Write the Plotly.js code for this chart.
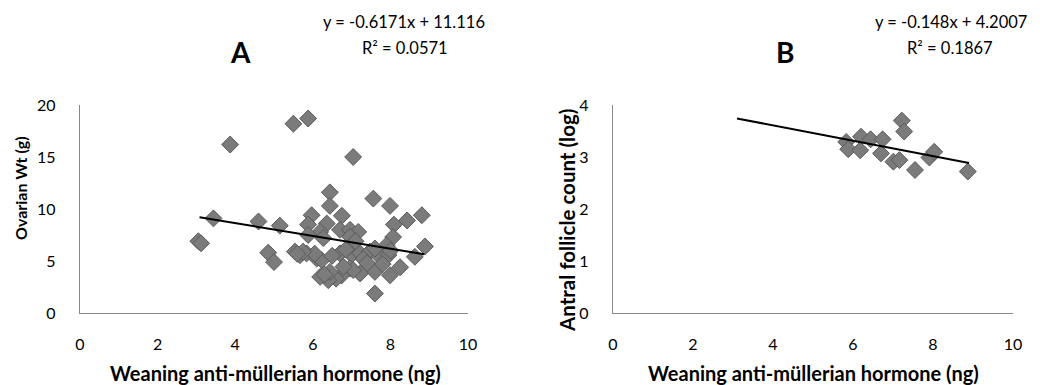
<!DOCTYPE html>
<html><head><meta charset="utf-8">
<script src="https://cdn.plot.ly/plotly-3.0.1.min.js"></script>
<style>html,body{margin:0;padding:0;background:#fff}#c{width:1040px;height:385px}</style>
</head><body><div id="c"></div>
<script>
// Panel A: Ovarian weight vs weaning AMH
const amhA = [3.05,3.12,3.44,3.87,4.6,4.85,5.0,5.15,5.5,5.88,7.04,6.44,6.44,5.97,6.75,5.88,6.36,6.7,6.96,6.19,5.88,6.27,7.17,6.96,7.56,7.99,8.81,8.43,8.09,8.07,7.9,8.89,8.63,5.54,5.67,5.84,6.1,6.23,6.7,7.0,7.22,7.47,7.73,7.95,8.25,7.99,7.6,7.22,6.96,6.74,6.6,6.4,6.44,6.19,7.6,7.04,6.79,7.3,7.4,7.8,6.5,6.85,6.05,5.75,7.6,8.0,6.3,5.6,7.1];
const ovWt = [6.9,6.7,9.1,16.2,8.8,5.8,4.9,8.4,18.2,18.7,15.0,11.6,10.3,9.4,9.35,8.5,8.6,8.0,8.0,7.8,7.5,7.2,7.8,7.35,11.0,10.3,9.4,8.9,8.5,7.3,6.5,6.4,5.4,5.9,5.56,5.73,5.24,5.08,5.73,5.6,5.73,5.9,5.4,5.56,4.4,3.63,3.95,3.8,4.3,3.6,3.3,3.15,3.95,3.47,1.87,4.13,4.45,5.2,4.8,4.7,5.5,6.1,5.7,5.9,6.2,6.0,3.7,5.7,6.9];
// Panel B: Antral follicle count (log) vs weaning AMH
const amhB = [7.22,7.28,5.83,5.88,6.2,6.18,6.44,6.74,6.7,7.01,7.16,7.55,7.91,8.03,8.87];
const afcLog = [3.70,3.49,3.29,3.15,3.39,3.13,3.34,3.34,3.07,2.91,2.94,2.75,2.99,3.10,2.72];
// Trendlines (from displayed equations)
const slopeA = -0.6171, interceptA = 11.116, trendXA = [3.08, 8.87];
const slopeB = -0.148, interceptB = 4.2007, trendXB = [3.1, 8.9];
const eqA = ["y = -0.6171x + 11.116", "R² = 0.0571"];
const eqB = ["y = -0.148x + 4.2007", "R² = 0.1867"];
const xTicks = [0,2,4,6,8,10];
const yTicksA = [0,5,10,15,20];
const yTicksB = [0,1,2,3,4];

const FONT = "Lato, 'Open Sans', sans-serif";
const mk = {symbol:'diamond', size:13, color:'#7b7b7b', line:{color:'#5a5a5a', width:1}};

const traces = [
  {x:amhA, y:ovWt, xaxis:'x', yaxis:'y', mode:'markers', marker:mk},
  {x:trendXA, y:trendXA.map(v=>slopeA*v+interceptA), xaxis:'x', yaxis:'y', mode:'lines', line:{color:'#000', width:2}},
  {x:amhB, y:afcLog, xaxis:'x2', yaxis:'y2', mode:'markers', marker:mk},
  {x:trendXB, y:trendXB.map(v=>slopeB*v+interceptB), xaxis:'x2', yaxis:'y2', mode:'lines', line:{color:'#000', width:2}}
];

const axBase = {showgrid:false, zeroline:false, showline:true, linecolor:'#888', linewidth:1.3,
  ticks:'outside', tickcolor:'rgba(0,0,0,0)', tickfont:{family:FONT, size:16, color:'#000'}, fixedrange:true};

const yDom = [72/385, 280/385];
function ann(text, px, py, size, extra){
  return Object.assign({text:text, x:px/1040, y:1-py/385, xref:'paper', yref:'paper', showarrow:false,
    xanchor:'center', yanchor:'middle', font:{family:FONT, size:size, color:'#000'}}, extra||{});
}
const layout = {
  width:1040, height:385, margin:{l:0,r:0,t:0,b:0}, showlegend:false,
  paper_bgcolor:'#fff', plot_bgcolor:'#fff', font:{family:FONT, color:'#000'},
  xaxis: Object.assign({}, axBase, {domain:[80/1040, 468/1040], range:[0,10], tickvals:xTicks, ticklen:16, anchor:'y'}),
  yaxis: Object.assign({}, axBase, {domain:yDom, range:[0,20], tickvals:yTicksA, ticklen:20, anchor:'x'}),
  xaxis2: Object.assign({}, axBase, {domain:[613/1040, 1013/1040], range:[0,10], tickvals:xTicks, ticklen:16, anchor:'y2'}),
  yaxis2: Object.assign({}, axBase, {domain:yDom, range:[0,4], tickvals:yTicksB, ticklen:20, anchor:'x2'}),
  annotations: [
    ann('<b>A</b>', 240, 52, 28),
    ann('<b>B</b>', 785, 52, 28),
    ann(eqA[0], 404, 22, 16.5),
    ann(eqA[1], 405, 48, 16.5),
    ann(eqB[0], 951, 22, 16.5),
    ann(eqB[1], 950, 48, 16.5),
    ann('<b>Weaning anti-müllerian hormone (ng)</b>', 275, 373, 20),
    ann('<b>Weaning anti-müllerian hormone (ng)</b>', 813, 373, 20),
    ann('<b>Ovarian Wt (g)</b>', 21, 188, 16, {textangle:-90}),
    ann('<b>Antral follicle count (log)</b>', 567, 221, 20.5, {textangle:-90})
  ]
};
Plotly.newPlot('c', traces, layout, {displayModeBar:false, staticPlot:true});
</script></body></html>
